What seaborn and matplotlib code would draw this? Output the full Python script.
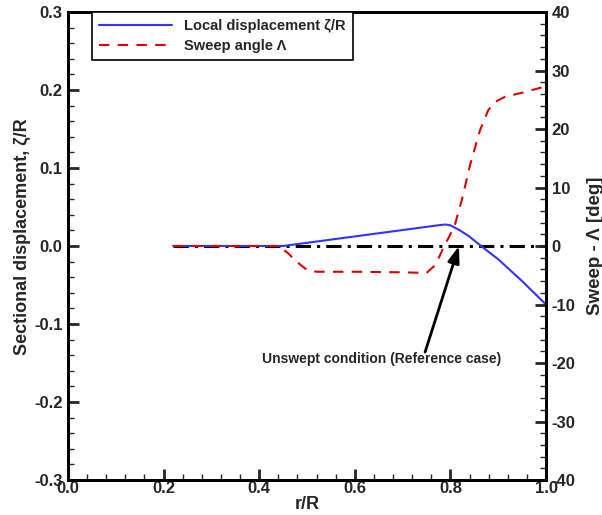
import matplotlib
matplotlib.use("Agg")
import matplotlib.pyplot as plt
import seaborn as sns
import pandas as pd
from matplotlib.ticker import MultipleLocator, FormatStrFormatter

sns.set_style("ticks")
plt.rcParams['font.family'] = ['Liberation Sans', 'DejaVu Sans']
plt.rcParams['font.weight'] = 'bold'

# Local displacement zeta/R vs r/R
disp_r = [0.22, 0.45, 0.78, 0.79, 0.80, 0.82, 0.84, 0.86, 0.90, 0.95, 1.0]
disp_zeta = [0.0, 0.0, 0.027, 0.0275, 0.0265, 0.020, 0.012, 0.002, -0.017, -0.045, -0.075]

# Sweep angle Lambda [deg] vs r/R
sweep_r = [0.22, 0.44, 0.46, 0.48, 0.50, 0.52, 0.60, 0.70, 0.75, 0.765, 0.777, 0.787,
           0.80, 0.81, 0.824, 0.841, 0.862, 0.879, 0.893, 0.914, 0.95, 1.0]
sweep_deg = [0.0, 0.0, -1.2, -2.8, -4.1, -4.4, -4.4, -4.5, -4.6, -3.5, -1.8, 0.0,
             2.0, 3.8, 7.9, 13.8, 19.8, 23.2, 24.6, 25.5, 26.2, 27.3]

# Reference (unswept) line
ref_r = [0.22, 1.0]
ref_zeta = [0.0, 0.0]

df_disp = pd.DataFrame({"r": disp_r, "v": disp_zeta})
df_sweep = pd.DataFrame({"r": sweep_r, "v": sweep_deg})
df_ref = pd.DataFrame({"r": ref_r, "v": ref_zeta})

fig = plt.figure(figsize=(6.02, 5.15), dpi=100)
ax = fig.add_axes([68/602, 1-480/515, (546-68)/602, (480-12)/515])
ax2 = ax.twinx()

sns.lineplot(data=df_ref, x="r", y="v", ax=ax, color="black", lw=2.2,
             linestyle=(0, (5, 2, 1, 2)), zorder=2)
sns.lineplot(data=df_disp, x="r", y="v", ax=ax, color="#3333ff", lw=1.5,
             label="Local displacement \u03b6/R", legend=False, zorder=3)
sns.lineplot(data=df_sweep, x="r", y="v", ax=ax2, color="#dd0000", lw=1.5,
             linestyle=(0, (5, 4)), label="Sweep angle \u039b", legend=False, zorder=3)

ax.set_xlim(0, 1)
ax.set_ylim(-0.3, 0.3)
ax2.set_ylim(-40, 40)

ax.xaxis.set_major_locator(MultipleLocator(0.2))
ax.xaxis.set_minor_locator(MultipleLocator(0.04))
ax.yaxis.set_major_locator(MultipleLocator(0.1))
ax.yaxis.set_minor_locator(MultipleLocator(0.02))
ax2.yaxis.set_major_locator(MultipleLocator(10))
ax2.yaxis.set_minor_locator(MultipleLocator(2))

ax.xaxis.set_major_formatter(FormatStrFormatter('%.1f'))
ax.yaxis.set_major_formatter(FormatStrFormatter('%.1f'))
ax2.yaxis.set_major_formatter(FormatStrFormatter('%d'))

for a in (ax, ax2):
    for s in a.spines.values():
        s.set_linewidth(2)
        s.set_color("black")
    a.tick_params(which="major", direction="in", length=8, width=2, labelsize=12, pad=4)
    a.tick_params(which="minor", direction="in", length=4, width=1)
ax.tick_params(axis="x", which="both", top=False, pad=1)
ax.tick_params(axis="y", which="both", right=False)
for lab in ax.get_xticklabels() + ax.get_yticklabels() + ax2.get_yticklabels():
    lab.set_fontweight("bold")

ax.set_xlabel("r/R", fontsize=13, fontweight="bold", labelpad=0)
ax.set_ylabel("Sectional displacement, \u03b6/R", fontsize=13, fontweight="bold", labelpad=3)
ax2.set_ylabel("Sweep - \u039b [deg]", fontsize=13.5, fontweight="bold", labelpad=8)
ax.yaxis.set_label_coords(-0.077, 0.52)

ax.text(0.657, -0.145, "Unswept condition (Reference case)", ha="center", va="center",
        fontsize=10, fontweight="bold")
ax.annotate("", xy=(0.818, 0.0), xytext=(0.747, -0.136),
            arrowprops=dict(arrowstyle="-|>,head_length=1.0,head_width=0.35",
                            color="black", lw=2, shrinkA=0, shrinkB=0))

h1, lb1 = ax.get_legend_handles_labels()
h2, lb2 = ax2.get_legend_handles_labels()
leg = ax2.legend(h1 + h2, lb1 + lb2, loc="upper left", bbox_to_anchor=(0.05, 1.0),
                 frameon=True, fancybox=False, edgecolor="black", framealpha=1,
                 handlelength=5, prop={"weight": "bold", "size": 10.5},
                 borderpad=0.5, labelspacing=0.4, borderaxespad=0)
leg.get_frame().set_linewidth(1.2)

fig.savefig("out.png", dpi=100)
